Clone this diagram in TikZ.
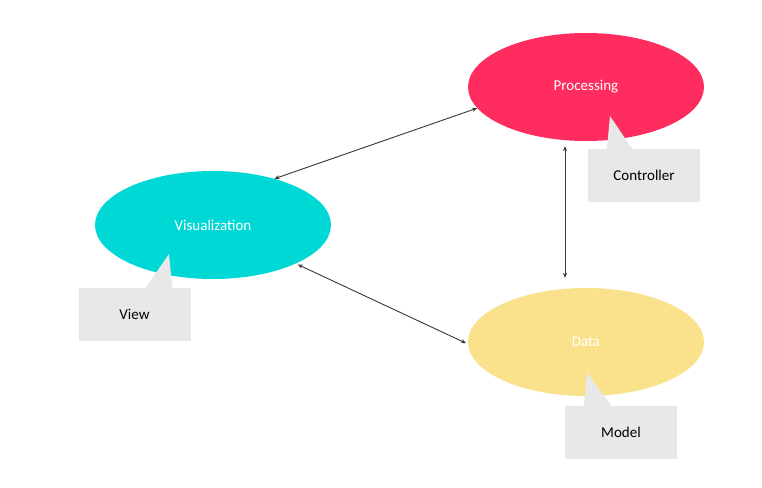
\documentclass[tikz,border=0pt]{standalone}
\usepackage{fontspec}
\setmainfont{Carlito}
\usetikzlibrary{shapes.geometric,arrows.meta}
\definecolor{procc}{RGB}{255,45,95}
\definecolor{vizc}{RGB}{0,216,214}
\definecolor{datac}{RGB}{250,226,140}
\definecolor{callc}{RGB}{232,232,232}
\definecolor{arrc}{RGB}{55,55,55}
\begin{document}
\begin{tikzpicture}[x=1pt,y=-1pt,
  blob/.style={ellipse,draw=none,inner sep=0pt,minimum width=236pt,minimum height=108pt,text=white,font=\fontsize{15}{17}\selectfont},
  callbox/.style={rectangle,fill=callc,draw=none,inner sep=0pt,minimum width=112pt,minimum height=53pt,font=\fontsize{15}{17}\selectfont},
  link/.style={draw=arrc,line width=0.9pt,{Stealth[length=5pt,width=4pt]}-{Stealth[length=5pt,width=4pt]}}]
\useasboundingbox (0,0) rectangle (762,487);
\fill[white] (0,0) rectangle (762,487);
% ellipses
\node[blob,fill=procc] (proc) at (586,87) {Processing};
\node[blob,fill=vizc] (viz) at (213,225) {Visualization};
\node[blob,fill=datac] (data) at (586,342) {Data};
% callouts
\node[callbox] (ctrl) at (644,175.5) {Controller};
\fill[callc] ([xshift=19pt,yshift=-1pt]ctrl.north west) -- (610,116) -- ([xshift=45pt,yshift=-1pt]ctrl.north west) -- cycle;
\node[callbox] (view) at (134.5,314) {View};
\fill[callc] ([xshift=67pt,yshift=-1pt]view.north west) -- (169,254) -- ([xshift=94pt,yshift=-1pt]view.north west) -- cycle;
\node[callbox] (model) at (621,432) {Model};
\fill[callc] ([xshift=19pt,yshift=-1pt]model.north west) -- (587,373) -- ([xshift=47pt,yshift=-1pt]model.north west) -- cycle;
% connectors
\draw[link] (viz.37) -- (proc.191);
\draw[link,shorten <=5pt,shorten >=10pt] ([xshift=-21pt]proc.south) -- ([xshift=-21pt]data.north);
\draw[link,shorten <=2pt,shorten >=2pt] (viz.-25) -- (data.181);
\end{tikzpicture}
\end{document}
